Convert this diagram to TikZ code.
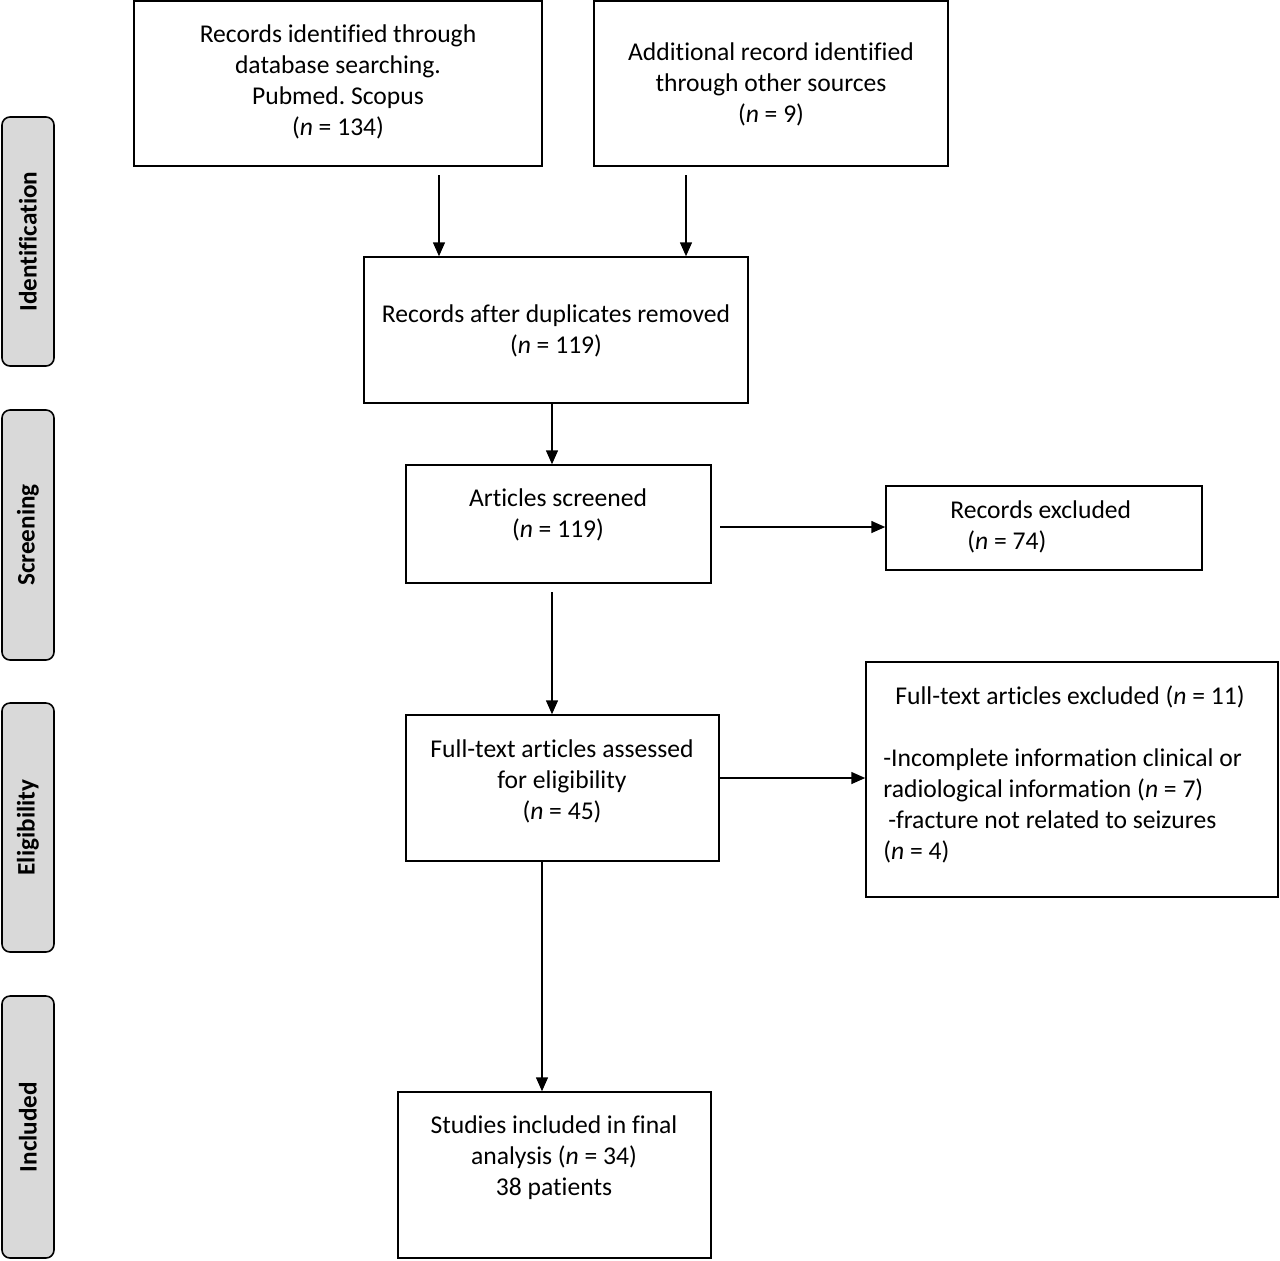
\documentclass[tikz,border=0pt]{standalone}
\usepackage{fontspec}
\setmainfont{Carlito}[Ligatures=NoCommon]
\usetikzlibrary{arrows.meta}
\definecolor{sidegray}{RGB}{217,217,217}
\frenchspacing
\begin{document}
\begin{tikzpicture}[x=0.5pt,y=-0.5pt,
 box/.style={draw, line width=0.75pt, inner sep=0pt},
 txt/.style={align=center, font=\fontsize{12.8}{15.5}\selectfont, inner sep=0pt},
 side/.style={draw, line width=0.8pt, fill=sidegray, rounded corners=4pt, rotate=90, inner sep=0pt, minimum height=26pt, font=\fontsize{12.6}{14}\selectfont\bfseries},
 arr/.style={line width=0.75pt, -{Triangle[length=7pt,width=6pt]}}]
\useasboundingbox (0,0) rectangle (1280,1260);
% side labels
\node[side, minimum width=124.5pt] (s1) at (28,241.5) {Identification};
\node[side, minimum width=125pt] (s2) at (28,535) {Screening};
\node[side, minimum width=124.5pt] (s3) at (28,827.5) {Eligibility};
\node[side, minimum width=131pt] (s4) at (28,1127) {Included};
% boxes
\node[box, minimum width=204pt, minimum height=82.5pt] (A) at (338,83.5) {};
\node[box, minimum width=177pt, minimum height=82.5pt] (B) at (771,83.5) {};
\node[box, minimum width=192pt, minimum height=73pt] (C) at (556,330) {};
\node[box, minimum width=152.5pt, minimum height=59pt] (D) at (558.5,524) {};
\node[box, minimum width=158pt, minimum height=42pt] (E) at (1044,528) {};
\node[box, minimum width=156.5pt, minimum height=73pt] (F) at (562.5,788) {};
\node[box, minimum width=206pt, minimum height=117.5pt] (G) at (1072,779.5) {};
\node[box, minimum width=156.5pt, minimum height=83pt] (H) at (554.5,1175) {};
% texts
\node[txt] (tA) at (338,81.5) {Records identified through\\database searching.\\Pubmed. Scopus\\(\textit{n} = 134)};
\node[txt] (tB) at (771,84) {Additional record identified\\through other sources\\(\textit{n} = 9)};
\node[txt] (tC) at (556,331) {Records after duplicates removed\\(\textit{n} = 119)};
\node[txt] (tD) at (558,515) {Articles screened\\(\textit{n} = 119)};
\node[txt, align=left, anchor=west] (tE) at (950,526.5) {Records excluded\\\hspace*{8.5pt}(\textit{n} = 74)};
\node[txt] (tF) at (562,781) {Full-text articles assessed\\for eligibility\\(\textit{n} = 45)};
\node[txt, align=left, anchor=west] (tG) at (883,774.5) {\hspace*{6pt}Full-text articles excluded (\textit{n} = 11)\\[15.5pt]-Incomplete information clinical or\\radiological information (\textit{n} = 7)\\\hspace*{2.5pt}-fracture not related to seizures\\(\textit{n} = 4)};
\node[txt] (tH) at (554,1158) {Studies included in final\\analysis (\textit{n} = 34)\\38 patients};
% arrows
\coordinate (a1) at (439,175);
\coordinate (a2) at (686,175);
\coordinate (a3) at (552,403);
\coordinate (a4) at (720,527);
\coordinate (a5) at (552,592);
\coordinate (a6) at (720,778);
\coordinate (a7) at (542,861);
\draw[arr] (a1) -- (a1 |- C.north);
\draw[arr] (a2) -- (a2 |- C.north);
\draw[arr] (a3) -- (a3 |- D.north);
\draw[arr] (a4) -- (a4 -| E.west);
\draw[arr] (a5) -- (a5 |- F.north);
\draw[arr] (a6) -- (a6 -| G.west);
\draw[arr] (a7) -- (a7 |- H.north);
\end{tikzpicture}
\end{document}
